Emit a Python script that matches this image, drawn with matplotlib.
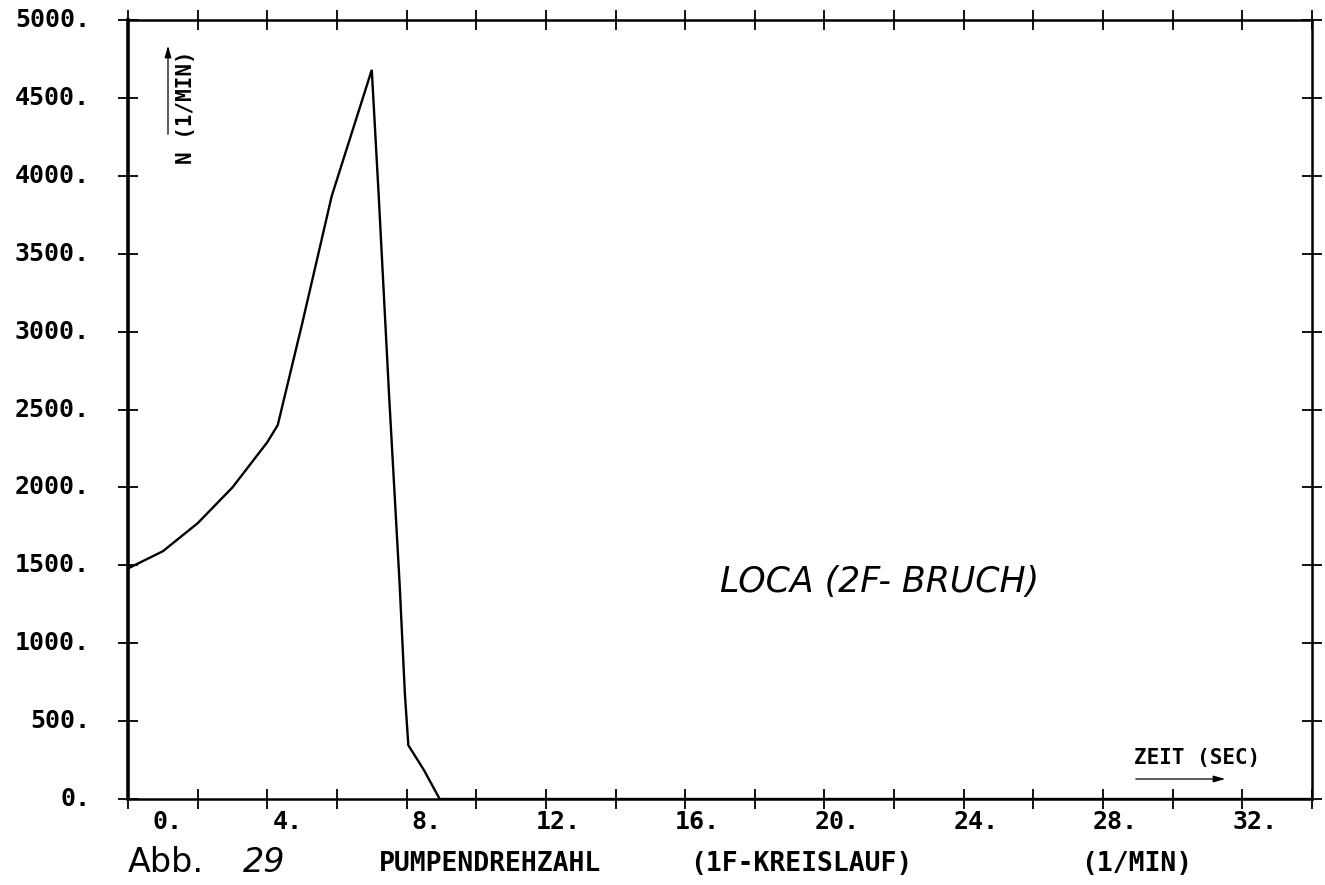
import numpy as np
import matplotlib
matplotlib.use("Agg")
import matplotlib.pyplot as plt
import matplotlib.transforms as mtransforms

# ---- data ----
zeit_sec = [0.0, 1.0, 2.0, 3.0, 4.0, 4.3, 5.0, 5.85, 7.0, 7.2, 7.5, 7.8, 7.95, 8.05, 8.5, 8.95, 34.0]
drehzahl = [1480, 1590, 1770, 2000, 2290, 2400, 3050, 3870, 4680, 3870, 2580, 1380, 680, 345, 185, 0, 0]

x_major = [0, 2, 4, 6, 8, 10, 12, 14, 16, 18, 20, 22, 24, 26, 28, 30, 32, 34]
x_labels = [0, 4, 8, 12, 16, 20, 24, 28, 32]
y_ticks = [0, 500, 1000, 1500, 2000, 2500, 3000, 3500, 4000, 4500, 5000]

W, H = 1325, 885
fig = plt.figure(figsize=(W / 100, H / 100), dpi=100)
L, R, T, B = 128, 1312, 20, 799
ax = fig.add_axes([L / W, 1 - B / H, (R - L) / W, (B - T) / H])

ax.plot(zeit_sec, drehzahl, color="black", lw=1.7, solid_joinstyle="miter")
ax.set_xlim(0, 34)
ax.set_ylim(0, 5000)

ax.set_xticks(x_major)
ax.set_yticks(y_ticks)
ax.tick_params(direction="inout", length=14, width=1.3, top=True, right=True,
               labelbottom=False, labelleft=False, color="black")
for s in ax.spines.values():
    s.set_linewidth(1.8)
ax.spines["left"].set_linewidth(2.6)

px = 0.72  # points per pixel at dpi 100
mono = dict(family="DejaVu Sans Mono", fontweight="bold", color="black")

# x tick labels (plotter-style, right aligned, offset right of tick)
for v in x_labels:
    dx = 55 if v == 0 else 35
    tr = mtransforms.blended_transform_factory(ax.transData, ax.transAxes) + \
        mtransforms.ScaledTranslation(dx * px / 72, -23 * px / 72, fig.dpi_scale_trans)
    ax.text(v, 0, f"{v}.", transform=tr, ha="right", va="center", fontsize=18,
            clip_on=False, **mono)

# y tick labels
for v in y_ticks:
    tr = mtransforms.blended_transform_factory(ax.transAxes, ax.transData) + \
        mtransforms.ScaledTranslation(-38 * px / 72, 0, fig.dpi_scale_trans)
    ax.text(0, v, f"{v}.", transform=tr, ha="right", va="center", fontsize=18,
            clip_on=False, **mono)

def fx(p):
    return p / W

def fy(p):
    return 1 - p / H

# y-axis quantity with arrow
fig.patches.append(matplotlib.patches.FancyArrowPatch(
    (fx(168), fy(137)), (fx(168), fy(43)), transform=fig.transFigure,
    arrowstyle="-|>,head_length=7,head_width=2", color="black", lw=0.9))
fig.text(fx(186), fy(107), "N (1/MIN)", rotation=90, ha="center", va="center",
         fontsize=15, **mono)

# time axis label with arrow
fig.text(fx(1197), fy(758), "ZEIT (SEC)", ha="center", va="center", fontsize=15, **mono)
fig.patches.append(matplotlib.patches.FancyArrowPatch(
    (fx(1133), fy(779)), (fx(1228), fy(779)), transform=fig.transFigure,
    arrowstyle="-|>,head_length=7,head_width=2", color="black", lw=0.9))

# case label
thin = dict(family="DejaVu Sans", color="black")
fig.text(fx(720), fy(582), "LOCA (2F- BRUCH)", ha="left", va="center", fontsize=25,
         style="italic", **thin)

# caption
fig.text(fx(128), fy(862), "Abb.", ha="left", va="center", fontsize=24, **thin)
fig.text(fx(243), fy(862), "29", ha="left", va="center", fontsize=24, style="italic", **thin)
fig.text(fx(379), fy(864), "PUMPENDREHZAHL", ha="left", va="center", fontsize=19, **mono)
fig.text(fx(690), fy(864), "(1F-KREISLAUF)", ha="left", va="center", fontsize=19, **mono)
fig.text(fx(1081), fy(864), "(1/MIN)", ha="left", va="center", fontsize=19, **mono)

fig.savefig("out.png", dpi=100, facecolor="white")
